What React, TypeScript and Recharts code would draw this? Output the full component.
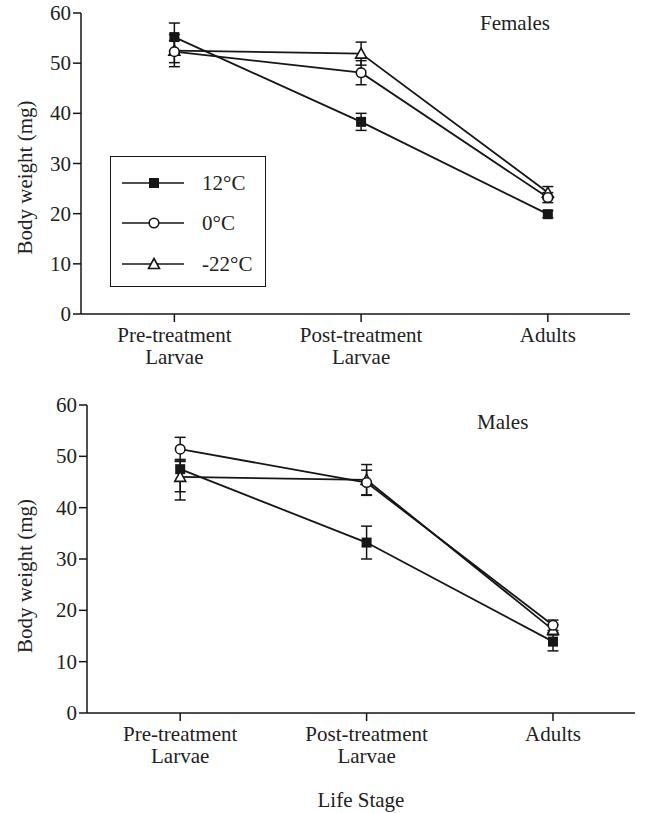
import React from 'react';
import { LineChart, Line, XAxis, YAxis, ErrorBar, Legend, Label } from 'recharts';

// ---- data ----
const stages: string[][] = [['Pre-treatment', 'Larvae'], ['Post-treatment', 'Larvae'], ['Adults']];
const seriesNames = ['12°C', '0°C', '-22°C'];
const yTicks = [0, 10, 20, 30, 40, 50, 60];

const females12 = [55.2, 38.3, 19.9];
const females12Err = [2.8, 1.7, 0.7];
const females0 = [52.3, 48.1, 23.2];
const females0Err = [2.2, 2.4, 1.0];
const femalesM22 = [52.5, 51.9, 24.2];
const femalesM22Err = [3.2, 2.3, 1.2];

const males12 = [47.5, 33.2, 13.9];
const males12Err: number[][] = [[4.4, 1.9], [3.2, 3.2], [1.8, 1.8]];
const males0 = [51.4, 44.9, 17.1];
const males0Err = [2.3, 2.4, 1.0];
const malesM22 = [46.0, 45.4, 16.2];
const malesM22Err: number[][] = [[4.5, 3.0], [3.0, 3.0], [1.0, 1.0]];

const buildRows = (a: number[], ae: any[], b: number[], be: any[], c: number[], ce: any[]) =>
  stages.map((_, i) => ({ x: i, s12: a[i], e12: ae[i], s0: b[i], e0: be[i], sm22: c[i], em22: ce[i] }));

const femaleRows = buildRows(females12, females12Err, females0, females0Err, femalesM22, femalesM22Err);
const maleRows = buildRows(males12, males12Err, males0, males0Err, malesM22, malesM22Err);

// ---- styles ----
const FONT = '"Liberation Serif", "DejaVu Serif", serif';
const INK = '#161616';
const TXT = '#222';
const FS = 21;

const Square = (p: any) =>
  p.cx == null ? <g key={p.index} /> : <rect key={p.index} x={p.cx - 5} y={p.cy - 5} width={10} height={10} fill={INK} />;
const Circle = (p: any) =>
  p.cx == null ? <g key={p.index} /> : <circle key={p.index} cx={p.cx} cy={p.cy} r={4.8} fill="#fff" stroke={INK} strokeWidth={1.6} />;
const Triangle = (p: any) =>
  p.cx == null ? (
    <g key={p.index} />
  ) : (
    <polygon
      key={p.index}
      points={`${p.cx},${p.cy - 5.5} ${p.cx - 5.5},${p.cy + 4.5} ${p.cx + 5.5},${p.cy + 4.5}`}
      fill="#fff"
      stroke={INK}
      strokeWidth={1.6}
    />
  );

const StageTick = (props: any) => {
  const { x, y, payload } = props;
  const lines = stages[payload.value] || [];
  return (
    <text x={x} y={y} textAnchor="middle" fontFamily={FONT} fontSize={FS} fill={TXT}>
      {lines.map((l, i) => (
        <tspan key={i} x={x} dy={i === 0 ? 18 : 22}>
          {l}
        </tspan>
      ))}
    </text>
  );
};

const YTick = (props: any) => {
  const { x, y, payload } = props;
  return (
    <text x={x} y={y} textAnchor="end" dominantBaseline="central" fontFamily={FONT} fontSize={FS} fill={TXT}>
      {payload.value}
    </text>
  );
};

const yLabel = (shift: number) => (p: any) => {
  const vb = p.viewBox || {};
  const cy = vb.y + vb.height / 2 + shift;
  const cx = 25;
  return (
    <text
      x={cx}
      y={cy}
      transform={`rotate(-90 ${cx} ${cy})`}
      textAnchor="middle"
      dominantBaseline="central"
      fontFamily={FONT}
      fontSize={FS}
      fill={TXT}
    >
      Body weight (mg)
    </text>
  );
};

const LegendBox = () => {
  const rows = [
    { name: seriesNames[0], Mark: Square, y: 26 },
    { name: seriesNames[1], Mark: Circle, y: 66 },
    { name: seriesNames[2], Mark: Triangle, y: 107 },
  ];
  return (
    <div style={{ width: 156, height: 131, border: `1.5px solid ${INK}`, boxSizing: 'border-box', background: '#fff' }}>
      <svg width={153} height={128}>
        {rows.map((r, i) => (
          <g key={i}>
            <line x1={11} x2={73} y1={r.y} y2={r.y} stroke={INK} strokeWidth={1.6} />
            {r.Mark({ cx: 43, cy: r.y, index: i })}
            <text x={91} y={r.y} dominantBaseline="central" fontFamily={FONT} fontSize={FS} fill={TXT}>
              {r.name}
            </text>
          </g>
        ))}
      </svg>
    </div>
  );
};

type PanelProps = {
  rows: any[];
  height: number;
  margin: any;
  legend?: boolean;
  yShift: number;
  xLabel?: boolean;
};

const Panel = ({ rows, height, margin, legend, yShift, xLabel }: PanelProps) => (
  <LineChart width={651} height={height} data={rows} margin={margin}>
    <XAxis
      dataKey="x"
      type="number"
      domain={[-0.5, 2.44]}
      ticks={stages.map((_, i) => i)}
      tick={<StageTick />}
      tickSize={8}
      tickMargin={2}
      height={60}
      stroke={INK}
      strokeWidth={1.5}
      allowDataOverflow
    >
      {xLabel ? (
        <Label
          content={(p: any) => {
            const vb = p.viewBox || {};
            return (
              <text
                x={vb.x + vb.width / 2}
                y={vb.y + 94}
                textAnchor="middle"
                fontFamily={FONT}
                fontSize={FS}
                fill={TXT}
              >
                Life Stage
              </text>
            );
          }}
        />
      ) : null}
    </XAxis>
    <YAxis
      domain={[0, 60]}
      ticks={yTicks}
      width={60}
      tickSize={8}
      tickMargin={2}
      tick={<YTick />}
      stroke={INK}
      strokeWidth={1.5}
      allowDataOverflow
    >
      <Label content={yLabel(yShift)} />
    </YAxis>
    {legend ? (
      <Legend
        layout="vertical"
        align="center"
        verticalAlign="middle"
        content={<LegendBox />}
        wrapperStyle={{ left: 110, top: 156, width: 156, height: 131 }}
      />
    ) : null}
    <Line dataKey="s12" name={seriesNames[0]} stroke={INK} strokeWidth={1.8} dot={Square} isAnimationActive={false}>
      <ErrorBar dataKey="e12" width={5.5} stroke={INK} strokeWidth={1.5} direction="y" />
    </Line>
    <Line dataKey="sm22" name={seriesNames[2]} stroke={INK} strokeWidth={1.8} dot={Triangle} isAnimationActive={false}>
      <ErrorBar dataKey="em22" width={5.5} stroke={INK} strokeWidth={1.5} direction="y" />
    </Line>
    <Line dataKey="s0" name={seriesNames[1]} stroke={INK} strokeWidth={1.8} dot={Circle} isAnimationActive={false}>
      <ErrorBar dataKey="e0" width={5.5} stroke={INK} strokeWidth={1.5} direction="y" />
    </Line>
  </LineChart>
);

export default function App() {
  return (
    <div style={{ position: 'absolute', left: 0, top: 0, width: 651, height: 813, background: '#fff', fontFamily: FONT }}>
      <div style={{ position: 'absolute', left: 0, top: 0 }}>
        <Panel rows={femaleRows} height={400} margin={{ top: 13, right: 21, bottom: 26, left: 21 }} legend yShift={14} />
      </div>
      <div style={{ position: 'absolute', left: 0, top: 392 }}>
        <Panel rows={maleRows} height={421} margin={{ top: 13, right: 16, bottom: 40, left: 27 }} yShift={17} xLabel />
      </div>
      <div style={{ position: 'absolute', left: 480, top: 11, fontSize: FS, color: TXT, lineHeight: '24px' }}>Females</div>
      <div style={{ position: 'absolute', left: 477, top: 410, fontSize: FS, color: TXT, lineHeight: '24px' }}>Males</div>
    </div>
  );
}
